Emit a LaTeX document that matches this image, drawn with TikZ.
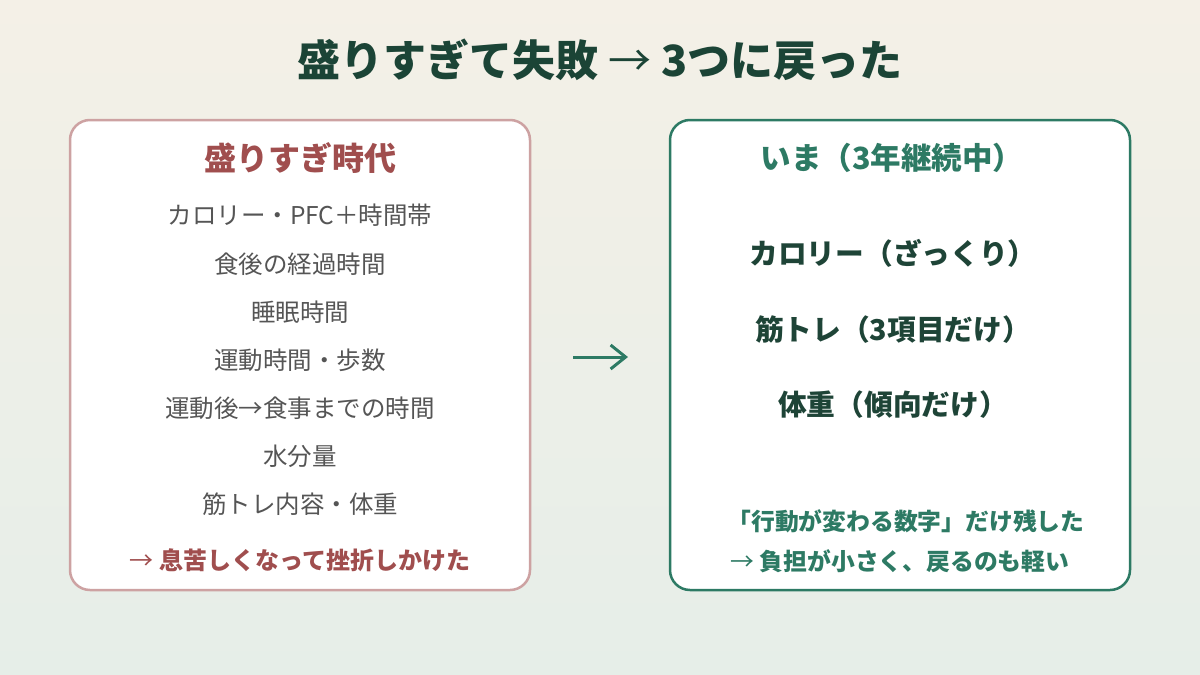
\documentclass[tikz,border=0pt]{standalone}
\usepackage{fontspec}
\setmainfont{Noto Sans CJK JP}
\usetikzlibrary{arrows.meta}
\definecolor{bgtop}{HTML}{F4F0E7}
\definecolor{bgbot}{HTML}{E6EEE8}
\definecolor{titlecol}{HTML}{1B4436}
\definecolor{redcol}{HTML}{A04E4E}
\definecolor{redborder}{HTML}{CDA2A2}
\definecolor{greencol}{HTML}{2D7A64}
\definecolor{darkgreen}{HTML}{1E4437}
\definecolor{graytext}{HTML}{555555}
\newcommand{\thinarr}{{\mdseries →}}
\tikzset{
  panel/.style={draw, line width=2.5pt, fill=white, rounded corners=20pt},
  titletext/.style={font=\fontsize{43}{47}\selectfont\bfseries, text=titlecol, anchor=center},
  lhead/.style={font=\fontsize{32}{36}\selectfont\bfseries, text=redcol},
  rhead/.style={font=\fontsize{30.5}{34}\selectfont\bfseries, text=greencol},
  litem/.style={font=\fontsize{24.5}{28}\selectfont, text=graytext},
  ritem/.style={font=\fontsize{28.7}{32}\selectfont\bfseries, text=darkgreen},
  lnote/.style={font=\fontsize{24}{28}\selectfont\bfseries, text=redcol},
  rnote/.style={font=\fontsize{23.8}{28}\selectfont\bfseries, text=greencol},
}
\begin{document}
\begin{tikzpicture}[x=1pt,y=-1pt]
\useasboundingbox (0,0) rectangle (1200,675);
\shade[top color=bgtop, bottom color=bgbot] (0,0) rectangle (1200,675);

\node[titletext] (title) at (600,60) {盛りすぎて失敗 \thinarr{} 3つに戻った};

\draw[panel, draw=redborder] (70,120) rectangle (530,590);
\draw[panel, draw=greencol] (670,120) rectangle (1130,590);

\node[lhead] (lh) at (300,158) {盛りすぎ時代};
\node[litem] (l1) at (300,215) {カロリー・PFC＋時間帯};
\node[litem] (l2) at (300,264) {食後の経過時間};
\node[litem] (l3) at (300,312) {睡眠時間};
\node[litem] (l4) at (300,360) {運動時間・歩数};
\node[litem] (l5) at (300,408) {運動後→食事までの時間};
\node[litem] (l6) at (300,456) {水分量};
\node[litem] (l7) at (300,504) {筋トレ内容・体重};
\node[lnote] (ln) at (300,560) {\thinarr{} 息苦しくなって挫折しかけた};

\node[rhead] (rh) at (892,158) {いま（3年継続中）};
\node[ritem] (r1) at (893,253) {カロリー（ざっくり）};
\node[ritem] (r2) at (893,330) {筋トレ（3項目だけ）};
\node[ritem] (r3) at (893,405) {体重（傾向だけ）};
\node[rnote] (rn1) at (906,521) {「行動が変わる数字」だけ残した};
\node[rnote] (rn2) at (900,561) {\thinarr{} 負担が小さく、戻るのも軽い};

\coordinate (a1) at (573,357);
\coordinate (a2) at (628,357);
\draw[greencol, line width=3pt, -{Straight Barb[length=15pt,width=24pt,line width=3pt]}] (a1) -- (a2);
\end{tikzpicture}
\end{document}
